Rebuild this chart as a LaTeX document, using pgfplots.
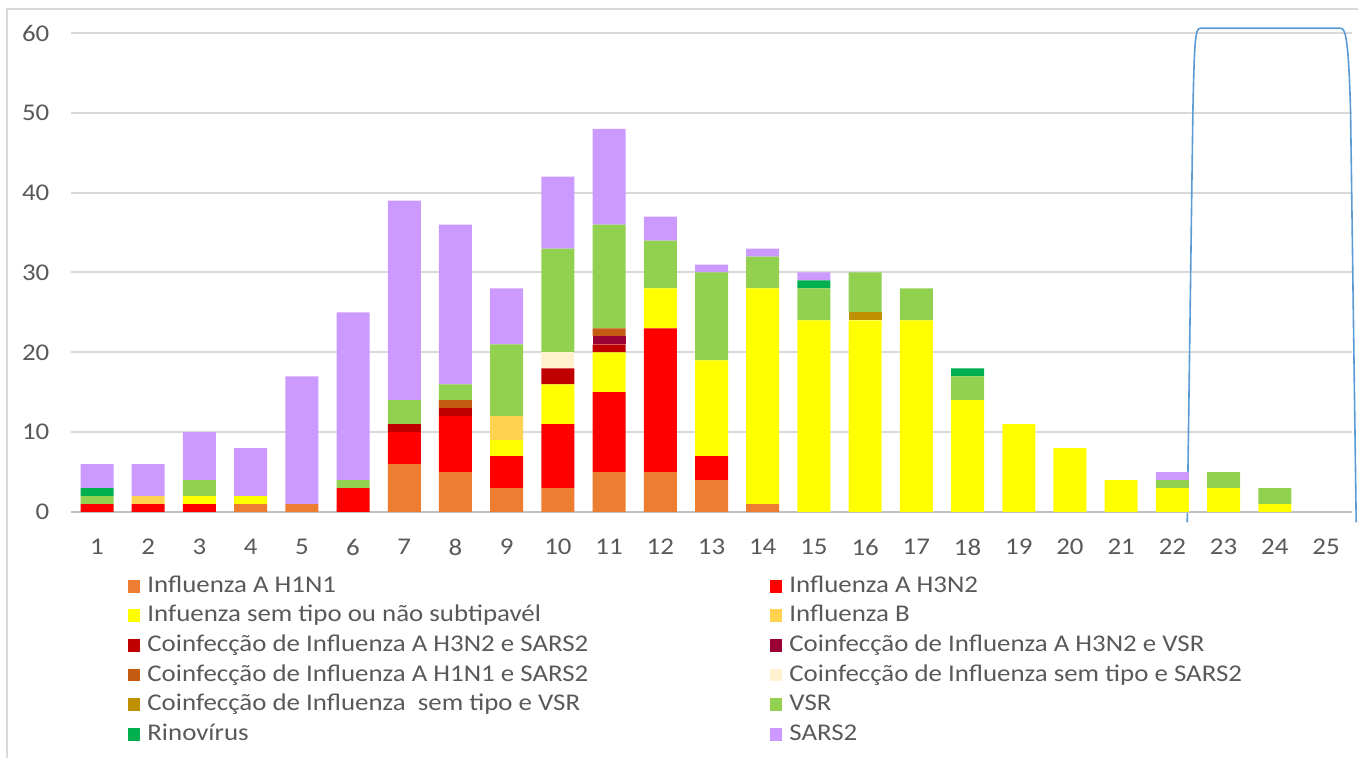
\documentclass[border=0pt]{standalone}
\usepackage{pgfplots}
\pgfplotsset{compat=1.18}
\usepackage{pgfplotstable}
\usepackage{fontspec}
\setmainfont{Carlito}[FakeStretch=1.12]

\definecolor{cH1}{HTML}{ED7D31}
\definecolor{cH3}{HTML}{FF0000}
\definecolor{cST}{HTML}{FFFF00}
\definecolor{cB}{HTML}{FFD34F}
\definecolor{cCa}{HTML}{C00000}
\definecolor{cCb}{HTML}{990033}
\definecolor{cCc}{HTML}{C55A11}
\definecolor{cCd}{HTML}{FFF2CC}
\definecolor{cCe}{HTML}{BF9000}
\definecolor{cVSR}{HTML}{92D050}
\definecolor{cRino}{HTML}{00B050}
\definecolor{cSARS}{HTML}{CC99FF}
\definecolor{gridgray}{HTML}{D9D9D9}
\definecolor{axisgray}{HTML}{BFBFBF}
\definecolor{labelgray}{HTML}{595959}
\definecolor{shapeblue}{HTML}{5B9BD5}

\pgfplotstableread{
x  h1 h3 st b  ca cb cc cd ce vsr rino sars
1  0  1  0  0  0  0  0  0  0  1   1    3
2  0  1  0  1  0  0  0  0  0  0   0    4
3  0  1  1  0  0  0  0  0  0  2   0    6
4  1  0  1  0  0  0  0  0  0  0   0    6
5  1  0  0  0  0  0  0  0  0  0   0    16
6  0  3  0  0  0  0  0  0  0  1   0    21
7  6  4  0  0  1  0  0  0  0  3   0    25
8  5  7  0  0  1  0  1  0  0  2   0    20
9  3  4  2  3  0  0  0  0  0  9   0    7
10 3  8  5  0  2  0  0  2  0  13  0    9
11 5  10 5  0  1  1  1  0  0  13  0    12
12 5  18 5  0  0  0  0  0  0  6   0    3
13 4  3  12 0  0  0  0  0  0  11  0    1
14 1  0  27 0  0  0  0  0  0  4   0    1
15 0  0  24 0  0  0  0  0  0  4   1    1
16 0  0  24 0  0  0  0  0  1  5   0    0
17 0  0  24 0  0  0  0  0  0  4   0    0
18 0  0  14 0  0  0  0  0  0  3   1    0
19 0  0  11 0  0  0  0  0  0  0   0    0
20 0  0  8  0  0  0  0  0  0  0   0    0
21 0  0  4  0  0  0  0  0  0  0   0    0
22 0  0  3  0  0  0  0  0  0  1   0    1
23 0  0  3  0  0  0  0  0  0  2   0    0
24 0  0  1  0  0  0  0  0  0  2   0    0
25 0  0  0  0  0  0  0  0  0  0   0    0
}\datatable

\newcommand{\lw}[1]{\makebox[309.5pt][l]{#1}}

\begin{document}
\begin{tikzpicture}
\path[use as bounding box] (0pt,0pt) rectangle (679pt,379pt);
\draw[gridgray, line width=0.6pt] (3.5pt,0pt) -- (3.5pt,374.5pt) -- (679pt,374.5pt);
\begin{axis}[
  at={(35.7pt,123pt)}, anchor=south west,
  scale only axis, width=640.1pt, height=239.5pt,
  xmin=0.5, xmax=25.5, ymin=0, ymax=60,
  ybar stacked, bar width=16.5pt,
  axis line style={draw=none}, tick style={draw=none},
  ymajorgrids, grid style={color=gridgray, line width=1pt},
  ytick={0,10,...,60}, xtick={1,...,25},
  tick label style={font=\fontsize{12}{14}\selectfont, text=labelgray},
  /pgf/number format/assume math mode=true,
  xticklabel style={yshift=-10pt},
  yticklabel style={xshift=-7.5pt},
  clip=false,
  legend columns=2,
  legend style={at={(0.0442,-0.1232)}, anchor=north west, draw=none, fill=none,
    inner sep=0pt, font=\fontsize{12}{14}\selectfont, text=labelgray,
    cells={anchor=west},
    nodes={text height=9pt, text depth=3pt, inner ysep=1.4pt, inner xsep=2pt},
    row sep=0pt},
  legend image code/.code={\fill[#1,draw=none] (0pt,-3.2pt) rectangle (6pt,3.2pt); \path (7.5pt,0pt);},
  every axis plot/.append style={draw=none},
]
\addplot[fill=cH1] table[x=x,y=h1]{\datatable};
\addlegendentry{\lw{Influenza A H1N1}}
\addplot[fill=cH3] table[x=x,y=h3]{\datatable};
\addlegendentry{Influenza A H3N2}
\addplot[fill=cST] table[x=x,y=st]{\datatable};
\addlegendentry{\lw{Infuenza sem tipo ou não subtipavél}}
\addplot[fill=cB] table[x=x,y=b]{\datatable};
\addlegendentry{Influenza B}
\addplot[fill=cCa] table[x=x,y=ca]{\datatable};
\addlegendentry{\lw{Coinfecção de Influenza A H3N2 e SARS2}}
\addplot[fill=cCb] table[x=x,y=cb]{\datatable};
\addlegendentry{Coinfecção de Influenza A H3N2 e VSR}
\addplot[fill=cCc] table[x=x,y=cc]{\datatable};
\addlegendentry{\lw{Coinfecção de Influenza A H1N1 e SARS2}}
\addplot[fill=cCd] table[x=x,y=cd]{\datatable};
\addlegendentry{Coinfecção de Influenza sem tipo e SARS2}
\addplot[fill=cCe] table[x=x,y=ce]{\datatable};
\addlegendentry{\lw{Coinfecção de Influenza\ \ sem tipo e VSR}}
\addplot[fill=cVSR] table[x=x,y=vsr]{\datatable};
\addlegendentry{VSR}
\addplot[fill=cRino] table[x=x,y=rino]{\datatable};
\addlegendentry{\lw{Rinovírus}}
\addplot[fill=cSARS] table[x=x,y=sars]{\datatable};
\addlegendentry{SARS2}
\draw[axisgray, line width=1.1pt] (axis cs:0.5,0) -- (axis cs:25.5,0);
\draw[shapeblue, line width=0.8pt] (axis cs:22.29,-1.3) -- (axis cs:22.40,50)
  .. controls (axis cs:22.43,59.5) and (axis cs:22.45,60.6) .. (axis cs:22.55,60.6)
  -- (axis cs:25.28,60.6)
  .. controls (axis cs:25.38,60.6) and (axis cs:25.44,59.5) .. (axis cs:25.48,50)
  -- (axis cs:25.59,-1.3);
\end{axis}
\end{tikzpicture}
\end{document}
